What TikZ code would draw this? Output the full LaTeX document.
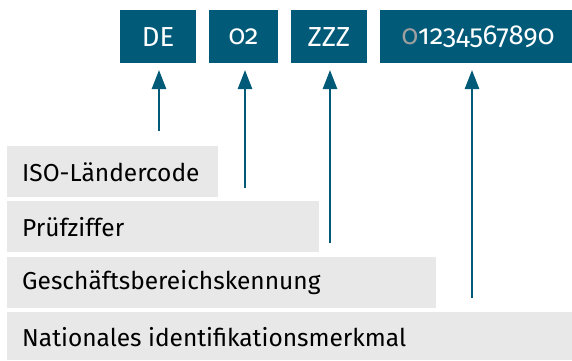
\documentclass[tikz,border=0pt]{standalone}
\usepackage{fontspec}
\setmainfont{Fira Sans}
\newfontfamily\oldnum[Numbers=OldStyle]{Fira Sans}
\usetikzlibrary{arrows.meta}
\definecolor{teal}{HTML}{005A78}
\definecolor{lgrey}{HTML}{E8E8E8}
\definecolor{zgrey}{HTML}{A0A0A0}
\begin{document}
\begin{tikzpicture}[x=1pt,y=-1pt,
  topbox/.style={fill=teal,text=white,inner sep=0pt,font=\oldnum\fontsize{27.5}{32}\selectfont},
  labbox/.style={fill=lgrey,inner sep=0pt,text=black,font=\fontsize{24.5}{29}\selectfont},
  arr/.style={draw=teal,line width=2.6pt,-{Triangle[width=14pt,length=19pt]}}]
\useasboundingbox (0,0) rectangle (572,360);
% top boxes
\path[topbox] (120,10) rectangle (196,63);
\node[topbox] (de) at (158,37) {DE};
\path[topbox] (209,10) rectangle (278,63);
\node[topbox] (pz) at (243.5,37) {02};
\path[topbox] (291,10) rectangle (367,63);
\node[topbox] (zz) at (329,37) {ZZZ};
\path[topbox] (380,10) rectangle (572,63);
\node[topbox] (nr) at (478,37) {\textcolor{zgrey}{0}1234567890};
% label boxes
\path[labbox] (7,146) rectangle (218,197);
\node[labbox,anchor=west] (l1) at (22,172) {ISO-Ländercode};
\path[labbox] (7,201) rectangle (319,252);
\node[labbox,anchor=west] (l2) at (22,227) {Prüfziffer};
\path[labbox] (7,257) rectangle (436,308);
\node[labbox,anchor=west] (l3) at (22,283) {Geschäftsbereichskennung};
\path[labbox] (7,312) rectangle (572,360);
\node[labbox,anchor=west] (l4) at (22,337) {Nationales identifikationsmerkmal};
% arrows
\coordinate (a1) at (159,131);
\coordinate (a2) at (245,188);
\coordinate (a3) at (330,243);
\coordinate (a4) at (472,298);
\draw[arr] (a1) -- (159,70);
\draw[arr] (a2) -- (245,70);
\draw[arr] (a3) -- (330,70);
\draw[arr] (a4) -- (472,70);
\end{tikzpicture}
\end{document}
